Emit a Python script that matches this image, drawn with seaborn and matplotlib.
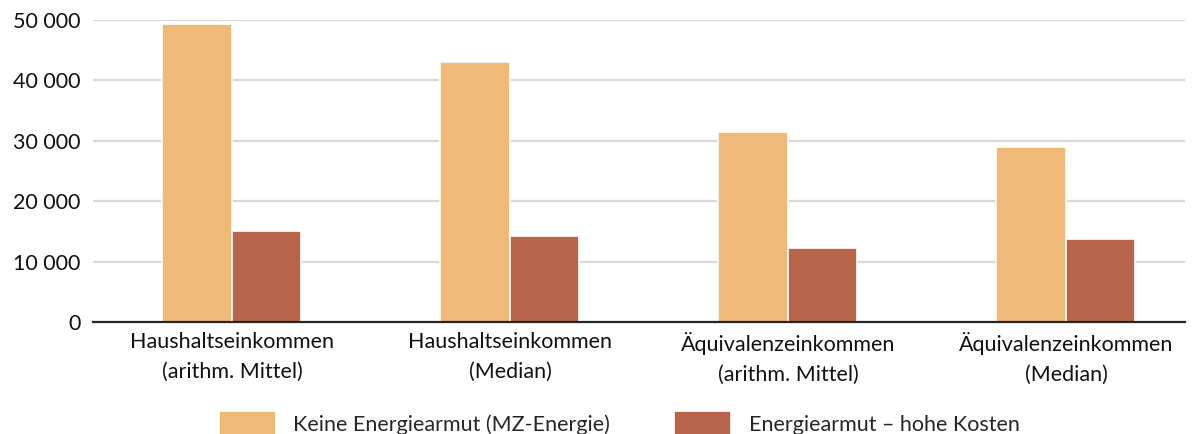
import matplotlib
matplotlib.use("Agg")
import matplotlib.pyplot as plt
import matplotlib.ticker as mticker
import seaborn as sns
import pandas as pd

# data
categories = [
    "Haushaltseinkommen\n(arithm. Mittel)",
    "Haushaltseinkommen\n(Median)",
    "Äquivalenzeinkommen\n(arithm. Mittel)",
    "Äquivalenzeinkommen\n(Median)",
]
series_names = ["Keine Energiearmut (MZ-Energie)", "Energiearmut – hohe Kosten"]
keine_energiearmut = [49400, 43000, 31400, 28900]
hohe_kosten = [15100, 14300, 12300, 13700]
colors = ["#EFBA77", "#B8644A"]

df = pd.DataFrame({
    "Kategorie": categories * 2,
    "Serie": [series_names[0]] * 4 + [series_names[1]] * 4,
    "Wert": keine_energiearmut + hohe_kosten,
})

sns.set_style("white")
plt.rcParams["font.family"] = ["Lato", "DejaVu Sans"]
fs = 15.5

fig = plt.figure(figsize=(11.95, 4.34), dpi=100)
ax = fig.add_axes([0.0778, 0.258, 0.9138, 0.696])

sns.barplot(data=df, x="Kategorie", y="Wert", hue="Serie", order=categories,
            hue_order=series_names, palette=colors, saturation=1, width=0.5,
            edgecolor="white", linewidth=1.2, ax=ax, legend=True)

ax.set_ylim(0, 50000)
ax.set_xlim(-0.5, 3.428)
ax.yaxis.set_major_locator(mticker.MultipleLocator(10000))
ax.yaxis.set_major_formatter(mticker.FuncFormatter(lambda v, p: f"{int(v):,}".replace(",", " ")))
ax.grid(axis="y", color="#D9D9D9", linewidth=1.6)
ax.set_axisbelow(True)
for s in ["top", "right", "left"]:
    ax.spines[s].set_visible(False)
ax.spines["bottom"].set_color("#262626")
ax.spines["bottom"].set_linewidth(1.6)
ax.tick_params(axis="y", length=0, pad=9, labelsize=fs, colors="#111111")
ax.tick_params(axis="x", length=0, pad=7, labelsize=fs, colors="#111111")
ax.set_xticks(range(len(categories)))
ax.set_xticklabels(categories, linespacing=1.62)
ax.set_xlabel("")
ax.set_ylabel("")

handles, labels = ax.get_legend_handles_labels()
ax.get_legend().remove()
fig.legend(handles, labels, loc="upper center", bbox_to_anchor=(0.518, 0.078),
           ncol=2, frameon=False, fontsize=fs, handlelength=2.65, handleheight=1.4,
           handletextpad=0.8, columnspacing=3.0, borderpad=0)

fig.savefig("out.png", dpi=100)
